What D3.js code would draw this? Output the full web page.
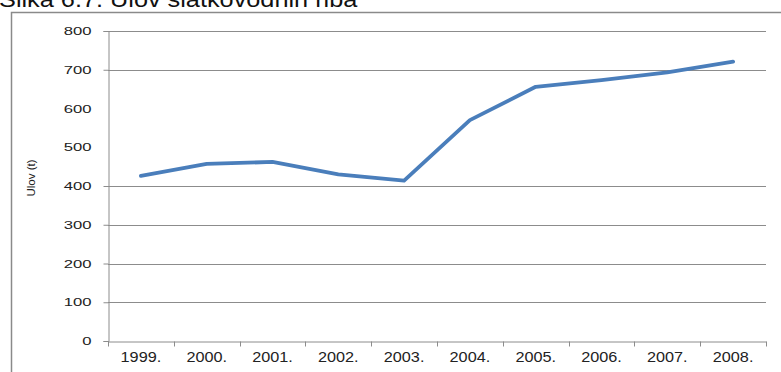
<!DOCTYPE html>
<html>
<head>
<meta charset="utf-8">
<script src="https://cdn.jsdelivr.net/npm/d3@7"></script>
<style>
  body { margin: 0; background: #fff; }
  svg { display: block; font-family: "Liberation Sans", Arial, sans-serif; }
</style>
</head>
<body>
<svg id="chart"></svg>
<script>
// values (tonnes)
const years = ["1999.", "2000.", "2001.", "2002.", "2003.", "2004.", "2005.", "2006.", "2007.", "2008."];
const catch_t = [426, 457, 462, 430, 414, 570, 656, 673, 693, 721];
const yTicks = [0, 100, 200, 300, 400, 500, 600, 700, 800];
// the scan only shows these horizontal gridlines
const gridTicks = [100, 200, 300, 400, 700, 800];

function main() {
    let width = 781, height = 372;
    let svg = d3.select("#chart")
        .attr("width", width)
        .attr("height", height);

    let margin = { left: 108, right: 15, top: 31, bottom: 31 };

    // the scanned figure is stretched sideways, so the texts are too
    let stretchY = 1.45, stretchX = 1.16, stretchTitle = 1.15;

    // title, cut off at the top like in the scan
    svg.append("text")
        .attr("transform", `scale(${stretchTitle},1)`)
        .attr("x", -1 / stretchTitle)
        .attr("y", 7)
        .attr("font-size", "22px")
        .attr("fill", "#111")
        .text("Slika 6.7. Ulov slatkovodnih riba");

    // frame of the figure
    svg.append("path")
        .attr("d", "M11.5,372 V12.5 H781")
        .attr("fill", "none")
        .attr("stroke", "#8a8a8a")
        .attr("stroke-width", 1.5);

    let x = d3.scaleBand()
        .domain(years)
        .range([margin.left, width - margin.right]);

    let y = d3.scaleLinear()
        .domain([0, 800])
        .range([height - margin.bottom, margin.top]);

    // gridlines
    svg.append("g")
        .selectAll("line")
        .data(gridTicks)
        .join("line")
        .attr("x1", margin.left)
        .attr("x2", width - margin.right)
        .attr("y1", d => Math.round(y(d)) + 0.5)
        .attr("y2", d => Math.round(y(d)) + 0.5)
        .attr("stroke", "#8c8c8c")
        .attr("stroke-width", 1);

    // y axis
    let yAxis = svg.append("g")
        .attr("transform", `translate(${margin.left + 0.5},0)`)
        .call(d3.axisLeft(y).tickValues(yTicks).tickSize(5).tickFormat(d3.format("d")));
    yAxis.select(".domain").attr("stroke", "#8c8c8c");
    yAxis.selectAll(".tick line")
        .attr("stroke", "#8c8c8c")
        .attr("display", d => (d === 0 || gridTicks.includes(d)) ? null : "none");
    yAxis.selectAll(".tick text")
        .attr("font-size", "11.5px")
        .attr("fill", "#222")
        .attr("x", -17 / stretchY)
        .attr("transform", `scale(${stretchY},1)`);

    // x axis, ticks between categories
    let xAxis = svg.append("g")
        .attr("transform", `translate(0,${Math.round(y(0)) + 0.5})`)
        .call(d3.axisBottom(x).tickSize(0).tickPadding(11));
    xAxis.select(".domain").attr("stroke", "#8c8c8c");
    xAxis.selectAll(".tick text")
        .attr("font-size", "14px")
        .attr("fill", "#222")
        .attr("transform", `scale(${stretchX},1)`);

    let bounds = years.map(d => x(d)).concat([x.range()[1]]);
    xAxis.selectAll(".sep")
        .data(bounds)
        .join("line")
        .attr("class", "sep")
        .attr("x1", d => Math.round(d) + 0.5)
        .attr("x2", d => Math.round(d) + 0.5)
        .attr("y1", 0)
        .attr("y2", 5)
        .attr("stroke", "#8c8c8c");

    // axis title
    svg.append("text")
        .attr("transform", "translate(35,178) rotate(-90)")
        .attr("text-anchor", "middle")
        .attr("font-size", "11.5px")
        .attr("fill", "#222")
        .text("Ulov (t)");

    // the line
    let line = d3.line()
        .x((d, i) => x(years[i]) + x.bandwidth() / 2)
        .y(d => y(d));

    svg.append("path")
        .datum(catch_t)
        .attr("d", line)
        .attr("fill", "none")
        .attr("stroke", "#4a7ebb")
        .attr("stroke-width", 3.8)
        .attr("stroke-linecap", "round")
        .attr("stroke-linejoin", "round");
}

main();
</script>
</body>
</html>
